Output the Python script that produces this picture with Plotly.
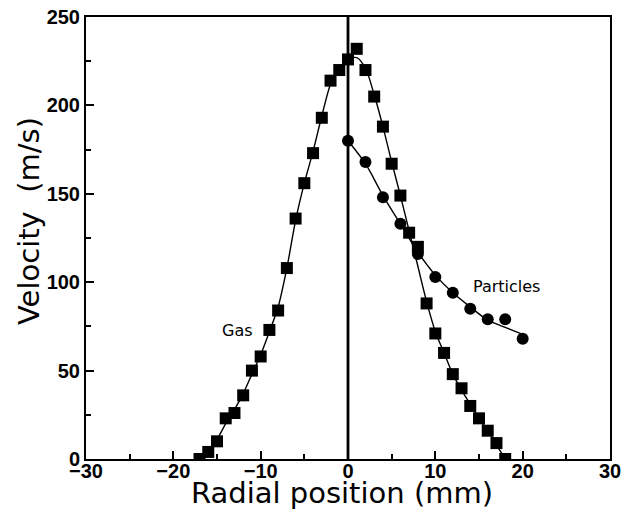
import plotly.graph_objects as go

# Gas velocity profile (squares)
gas_x = [-17, -16, -15, -14, -13, -12, -11, -10, -9, -8, -7, -6, -5, -4, -3, -2, -1, 0,
         1, 2, 3, 4, 5, 6, 7, 8, 9, 10, 11, 12, 13, 14, 15, 16, 17, 18]
gas_v = [0, 4, 10, 23, 26, 36, 50, 58, 73, 84, 108, 136, 156, 173, 193, 214, 220, 226,
         232, 220, 205, 188, 167, 149, 128, 120, 88, 71, 60, 48, 40, 30, 23, 16, 9, 0]

# Smoothed gas curve
gas_curve_x = [-17, -16, -15, -14, -13, -12, -11, -10, -9, -8, -7, -6, -5, -4, -3, -2, -1, 0,
               1, 2, 3, 4, 5, 6, 7, 8, 9, 10, 11, 12, 13, 14, 15, 16, 17, 18]
gas_curve_v = [0, 4, 11, 20, 28, 37, 48, 59, 72, 86, 108, 135, 156, 174, 194, 212, 221, 226,
               227, 221, 206, 188, 168, 149, 129, 109, 89, 72, 60, 48, 39, 31, 23, 16, 8, 0]

# Particle velocity profile (circles)
part_x = [0, 2, 4, 6, 8, 10, 12, 14, 16, 18, 20]
part_v = [180, 168, 148, 133, 116, 103, 94, 85, 79, 79, 68]

# Smoothed particle curve
part_curve_x = [0, 2, 4, 6, 8, 10, 12, 14, 16, 18, 20]
part_curve_v = [180, 167, 149, 133, 117, 104, 94, 86, 78.5, 74.5, 70.5]

# Centreline marker
axis_x = [0, 0]
axis_v = [0, 250]

x_ticks = [-30, -20, -10, 0, 10, 20, 30]
x_tick_text = ["\u221230", "\u221220", "\u221210", "0", "10", "20", "30"]
y_ticks = [0, 50, 100, 150, 200, 250]

fig = go.Figure()

fig.add_trace(go.Scatter(x=axis_x, y=axis_v, mode="lines",
                         line=dict(color="black", width=2.8), hoverinfo="skip"))
fig.add_trace(go.Scatter(x=gas_curve_x, y=gas_curve_v, mode="lines",
                         line=dict(color="black", width=1.4, shape="spline", smoothing=0.8)))
fig.add_trace(go.Scatter(x=part_curve_x, y=part_curve_v, mode="lines",
                         line=dict(color="black", width=1.4, shape="spline", smoothing=0.8)))
fig.add_trace(go.Scatter(x=gas_x, y=gas_v, mode="markers",
                         marker=dict(symbol="square", size=12, color="black")))
fig.add_trace(go.Scatter(x=part_x, y=part_v, mode="markers",
                         marker=dict(symbol="circle", size=12, color="black")))

fig.add_annotation(x=-12.7, y=72.5, text="Gas", showarrow=False,
                   font=dict(family="DejaVu Sans", size=16, color="black"))
fig.add_annotation(x=18.1, y=97.5, text="Particles", showarrow=False,
                   font=dict(family="DejaVu Sans", size=16, color="black"))

tick_font = dict(family="Liberation Sans", size=20, color="black", weight="bold")
title_font = dict(family="DejaVu Sans", size=29, color="black")

# Axis titles placed relative to the plotting area
fig.add_annotation(text="Radial position (mm)", xref="paper", yref="paper",
                   x=0.5, y=0, xanchor="center", yanchor="top",
                   xshift=-6, yshift=-15, showarrow=False, font=title_font)
fig.add_annotation(text="Velocity  (m/s)", xref="paper", yref="paper",
                   x=0, y=0.5, xanchor="center", yanchor="middle", textangle=-90,
                   xshift=-57, yshift=17, showarrow=False, font=title_font)

fig.update_xaxes(
    range=[-30, 30], tickvals=x_ticks, ticktext=x_tick_text,
    ticks="inside", ticklen=8, tickwidth=1.5, tickcolor="black",
    minor=dict(dtick=5, tick0=0, ticks="inside", ticklen=5, tickwidth=1.5, tickcolor="black"),
    showline=True, linecolor="black", linewidth=2, mirror=True,
    showgrid=False, zeroline=False, tickfont=tick_font, ticklabelstandoff=-7,
    automargin=False,
)
fig.update_yaxes(
    range=[0, 250], tickvals=y_ticks,
    ticks="inside", ticklen=8, tickwidth=1.5, tickcolor="black",
    minor=dict(dtick=25, tick0=0, ticks="inside", ticklen=5, tickwidth=1.5, tickcolor="black"),
    showline=True, linecolor="black", linewidth=2, mirror=True,
    showgrid=False, zeroline=False, tickfont=tick_font,
    automargin=False,
)

fig.update_layout(
    width=629, height=514,
    margin=dict(l=86, r=19, t=17, b=55),
    paper_bgcolor="white", plot_bgcolor="white",
    showlegend=False,
)

fig.write_html("out.html")
